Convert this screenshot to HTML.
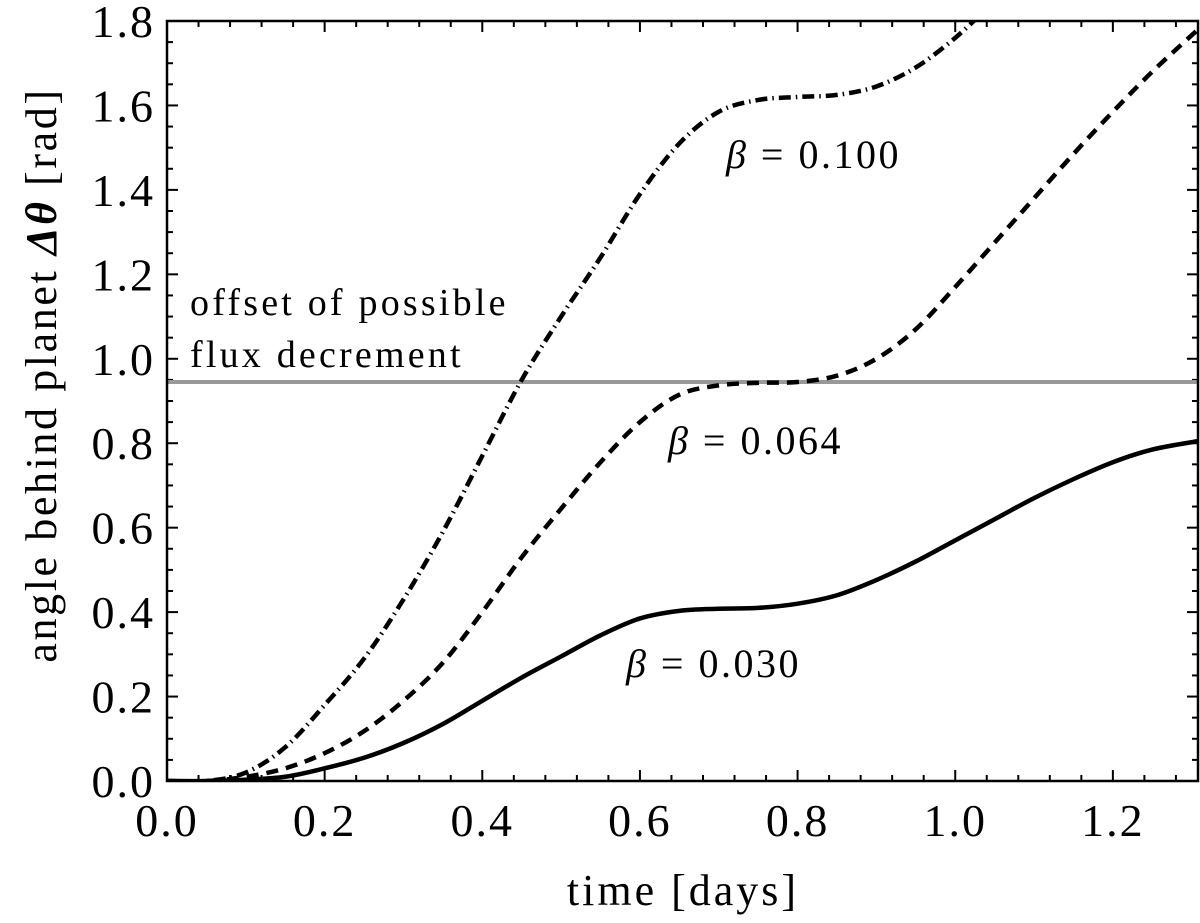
<!DOCTYPE html>
<html><head><meta charset="utf-8"><style>
html,body{margin:0;padding:0;background:#fff}
svg text{font-family:"Liberation Serif",serif;fill:#000}
</style></head><body>
<svg id="chart" width="1200" height="918" viewBox="0 0 1200 918" xmlns="http://www.w3.org/2000/svg">
<g id="ticks"></g>
<g id="series"></g>
<rect x="167" y="21" width="1031" height="760" fill="none" stroke="#000" stroke-width="2.5"/>
<g id="labels" font-size="46" letter-spacing="2"></g>
<text x="683" y="905" font-size="44" letter-spacing="3" text-anchor="middle">time [days]</text>
<text transform="translate(56,375) rotate(-90)" font-size="44" letter-spacing="2.6" text-anchor="middle">angle behind planet <tspan font-style="italic" font-weight="bold">Δθ</tspan> [rad]</text>
<text x="190" y="315" font-size="38" letter-spacing="3.2">offset of possible</text>
<text x="190" y="367" font-size="38" letter-spacing="3.2">flux decrement</text>
<text x="726" y="168" font-size="40" letter-spacing="2.5"><tspan font-style="italic">β</tspan> = 0.100</text>
<text x="668" y="454" font-size="40" letter-spacing="2.5"><tspan font-style="italic">β</tspan> = 0.064</text>
<text x="626" y="677" font-size="40" letter-spacing="2.5"><tspan font-style="italic">β</tspan> = 0.030</text>
</svg>
<script>
const xTicks=[0,0.2,0.4,0.6,0.8,1.0,1.2];
const xTickLabels=["0.0","0.2","0.4","0.6","0.8","1.0","1.2"];
const yTicks=[0,0.2,0.4,0.6,0.8,1.0,1.2,1.4,1.6,1.8];
const yTickLabels=["0.0","0.2","0.4","0.6","0.8","1.0","1.2","1.4","1.6","1.8"];
const refLevel=0.945;
const tSolid=[0,0.05,0.1,0.15,0.2,0.25,0.3,0.35,0.4,0.45,0.5,0.55,0.6,0.65,0.7,0.75,0.8,0.85,0.9,0.95,1.0,1.05,1.1,1.15,1.2,1.25,1.308];
const ySolid=[0,0,0.003,0.01,0.03,0.055,0.09,0.135,0.19,0.245,0.295,0.345,0.385,0.403,0.408,0.41,0.42,0.44,0.476,0.52,0.57,0.62,0.67,0.715,0.755,0.785,0.805];
const tDashed=[0,0.05,0.1,0.15,0.2,0.25,0.3,0.35,0.4,0.45,0.5,0.55,0.6,0.65,0.7,0.75,0.8,0.85,0.9,0.95,1.0,1.05,1.1,1.15,1.2,1.25,1.308];
const yDashed=[0,0,0.01,0.03,0.066,0.118,0.19,0.28,0.40,0.53,0.645,0.755,0.85,0.915,0.937,0.943,0.945,0.96,1.0,1.07,1.17,1.275,1.38,1.485,1.585,1.68,1.78];
const tDashDot=[0,0.05,0.1,0.15,0.2,0.25,0.3,0.35,0.4,0.45,0.5,0.55,0.6,0.65,0.7,0.75,0.8,0.85,0.9,0.95,1.0,1.04];
const yDashDot=[0,0,0.02,0.08,0.18,0.29,0.43,0.59,0.77,0.95,1.1,1.24,1.39,1.51,1.585,1.613,1.62,1.625,1.645,1.69,1.76,1.83];
const X0=167,X1=1198,XMAX=1.308,Y0=781,Y1=21,YMAX=1.8;
const sx=v=>X0+(X1-X0)*v/XMAX, sy=v=>Y0-(Y0-Y1)*v/YMAX;
const NS="http://www.w3.org/2000/svg";
function mk(tag,attrs,parent){const e=document.createElementNS(NS,tag);for(const k in attrs)e.setAttribute(k,attrs[k]);parent.appendChild(e);return e;}
const tg=document.getElementById('ticks'),lg=document.getElementById('labels'),sg=document.getElementById('series');
for(let i=0;i<=32;i++){const v=i*0.04;if(v>XMAX)break;const x=sx(v);const major=i%5===0;const L=major?11:6;
 const a=mk('line',{x1:x,y1:Y0,x2:x,y2:Y0-L,stroke:'#000','stroke-width':2},tg);
 
 
 const b=mk('line',{x1:x,y1:Y1,x2:x,y2:Y1+L,stroke:'#000','stroke-width':2},tg);
 
 }
for(let i=0;i<=36;i++){const v=i*0.05;const y=sy(v);const major=i%4===0;const L=major?11:6;
 const a=mk('line',{x1:X0,y1:y,x2:X0+L,y2:y,stroke:'#000','stroke-width':2},tg);
 
 
 const b=mk('line',{x1:X1,y1:y,x2:X1-L,y2:y,stroke:'#000','stroke-width':2},tg);
 
 }
xTicks.forEach((v,i)=>{const t=mk('text',{x:sx(v),y:836,'text-anchor':'middle'},lg);t.textContent=xTickLabels[i];
 
 });
yTicks.forEach((v,i)=>{const t=mk('text',{x:155,y:sy(v)+16,'text-anchor':'end'},lg);t.textContent=yTickLabels[i];
 
 });
const ref=mk('line',{x1:X0,x2:X1,y1:sy(refLevel),y2:sy(refLevel),stroke:'#999','stroke-width':4},sg);


function pathFrom(ts,ys){const p=ts.map((t,i)=>[sx(t),sy(ys[i])]);let d='M'+p[0][0]+','+p[0][1];
 for(let i=0;i<p.length-1;i++){const p0=p[Math.max(0,i-1)],p1=p[i],p2=p[i+1],p3=p[Math.min(p.length-1,i+2)];
  const c1=[p1[0]+(p2[0]-p0[0])/6,p1[1]+(p2[1]-p0[1])/6],c2=[p2[0]-(p3[0]-p1[0])/6,p2[1]-(p3[1]-p1[1])/6];
  d+=' C'+c1+' '+c2+' '+p2;}return d;}
const clip=mk('clipPath',{id:'pc'},document.getElementById('chart'));mk('rect',{x:X0,y:Y1,width:X1-X0,height:Y0-Y1},clip);
const s1=mk('path',{d:pathFrom(tSolid,ySolid),fill:'none',stroke:'#000','stroke-width':4.5,'clip-path':'url(#pc)'},sg);


const s2=mk('path',{d:pathFrom(tDashed,yDashed),fill:'none',stroke:'#000','stroke-width':4.5,'stroke-dasharray':'12 8','clip-path':'url(#pc)'},sg);


const s3=mk('path',{d:pathFrom(tDashDot,yDashDot),fill:'none',stroke:'#000','stroke-width':4.5,'stroke-dasharray':'12 5 1.5 5','clip-path':'url(#pc)'},sg);


</script>
</body></html>
